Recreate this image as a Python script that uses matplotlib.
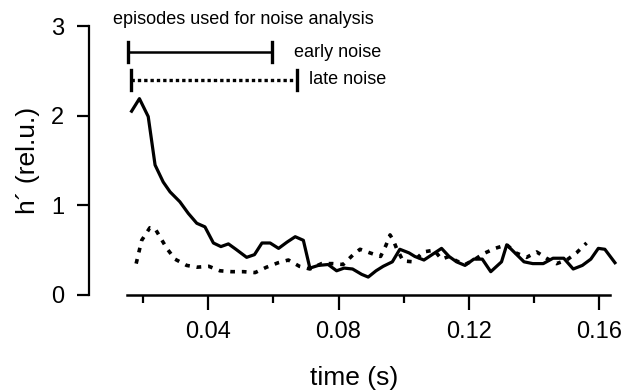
import matplotlib
matplotlib.use('Agg')
import matplotlib.pyplot as plt
from matplotlib.ticker import MultipleLocator

plt.rcParams['font.family'] = ['Liberation Sans', 'DejaVu Sans']

# early noise curve (solid)
t_early = [0.0165, 0.0189, 0.0216, 0.0237, 0.0262, 0.0283, 0.0313, 0.0339, 0.0365, 0.0390,
           0.0416, 0.0439, 0.0462, 0.0485, 0.0518, 0.0542, 0.0565, 0.0590, 0.0616, 0.0642,
           0.0667, 0.0692, 0.0712, 0.0738, 0.0768, 0.0794, 0.0817, 0.0843, 0.0871, 0.0891,
           0.0915, 0.0937, 0.0965, 0.0988, 0.1016, 0.1034, 0.1062, 0.1091, 0.1116, 0.1139,
           0.1162, 0.1188, 0.1215, 0.1241, 0.1267, 0.1300, 0.1316, 0.1341, 0.1369, 0.1396,
           0.1428, 0.1458, 0.1491, 0.1520, 0.1548, 0.1574, 0.1597, 0.1617, 0.1648]
h_early = [2.05, 2.19, 1.99, 1.45, 1.26, 1.15, 1.04, 0.91, 0.80, 0.76,
           0.58, 0.54, 0.57, 0.51, 0.42, 0.45, 0.58, 0.58, 0.52, 0.59,
           0.65, 0.61, 0.30, 0.33, 0.34, 0.27, 0.30, 0.29, 0.23, 0.20,
           0.27, 0.32, 0.37, 0.51, 0.47, 0.43, 0.39, 0.46, 0.52, 0.43,
           0.37, 0.33, 0.40, 0.40, 0.26, 0.37, 0.56, 0.47, 0.37, 0.35,
           0.35, 0.41, 0.41, 0.29, 0.33, 0.40, 0.52, 0.51, 0.36]

# late noise curve (dotted)
t_late = [0.0179, 0.0196, 0.0221, 0.0237, 0.0273, 0.0298, 0.0334, 0.0365, 0.0402, 0.0436,
          0.0472, 0.0508, 0.0544, 0.0579, 0.0615, 0.0646, 0.0680, 0.0712, 0.0748, 0.0781,
          0.0814, 0.0845, 0.0866, 0.0896, 0.0929, 0.0945, 0.0958, 0.0968, 0.0978, 0.0998,
          0.1029, 0.1060, 0.1093, 0.1116, 0.1139, 0.1162, 0.1188, 0.1215, 0.1244, 0.1280,
          0.1316, 0.1344, 0.1377, 0.1408, 0.1438, 0.1469, 0.1500, 0.1530, 0.1561]
h_late = [0.35, 0.61, 0.75, 0.74, 0.52, 0.40, 0.33, 0.31, 0.32, 0.27,
          0.26, 0.26, 0.25, 0.31, 0.36, 0.39, 0.32, 0.29, 0.35, 0.35,
          0.34, 0.45, 0.51, 0.47, 0.43, 0.55, 0.67, 0.61, 0.52, 0.38,
          0.37, 0.48, 0.50, 0.40, 0.43, 0.38, 0.34, 0.39, 0.46, 0.52,
          0.56, 0.47, 0.42, 0.48, 0.41, 0.35, 0.39, 0.47, 0.58]

# analysis episodes: (start, end, level)
episode_labels = ['early noise', 'late noise']
episode_start = [0.0154, 0.0163]
episode_end = [0.0596, 0.0672]
episode_level = [2.71, 2.40]

fig = plt.figure(figsize=(6.27, 3.9), dpi=100)
ax = fig.add_axes([0.142, 0.2436, 0.845, 0.6897])

ax.plot(t_early, h_early, color='black', lw=2.3, solid_joinstyle='round')
ax.plot(t_late, h_late, color='black', lw=2.6, linestyle=(0, (1.3, 1.9)))

styles = ['-', (0, (1.0, 0.9))]
label_gap = [0.0068, 0.0037]
for lab, s, e, lev, ls, g in zip(episode_labels, episode_start, episode_end,
                                 episode_level, styles, label_gap):
    ax.plot([s, e], [lev, lev], color='black', lw=1.8 if ls == '-' else 2.4,
            linestyle=ls, clip_on=False)
    for x in (s, e):
        ax.plot([x, x], [lev - 0.11, lev + 0.11], color='black', lw=2.4, clip_on=False)
    ax.text(e + g, lev, lab, fontsize=13, va='center', ha='left')
ax.text(0.0108, 3.07, 'episodes used for noise analysis', fontsize=13,
        va='center', ha='left', clip_on=False)

ax.set_xlim(0.00344, 0.166)
ax.set_ylim(0, 3)

ax.spines['top'].set_visible(False)
ax.spines['right'].set_visible(False)
ax.spines['bottom'].set_bounds(0.0151, 0.1634)
ax.spines['left'].set_linewidth(1.6)
ax.spines['bottom'].set_linewidth(1.8)

ax.xaxis.set_minor_locator(MultipleLocator(0.02))
ax.set_xticks([0.04, 0.08, 0.12, 0.16])
ax.set_xticklabels(['0.04', '0.08', '0.12', '0.16'])
ax.set_yticks([0, 1, 2, 3])
ax.tick_params(axis='x', which='major', length=11, width=1.6, labelsize=17, pad=8)
ax.tick_params(axis='x', which='minor', length=6, width=1.6)
ax.tick_params(axis='y', length=9, width=1.6, labelsize=17, pad=9)

ax.set_xlabel('time (s)', fontsize=19, labelpad=16)
ax.set_ylabel('h\u00b4 (rel.u.)', fontsize=19, labelpad=8)

fig.savefig('out.png', dpi=100)
